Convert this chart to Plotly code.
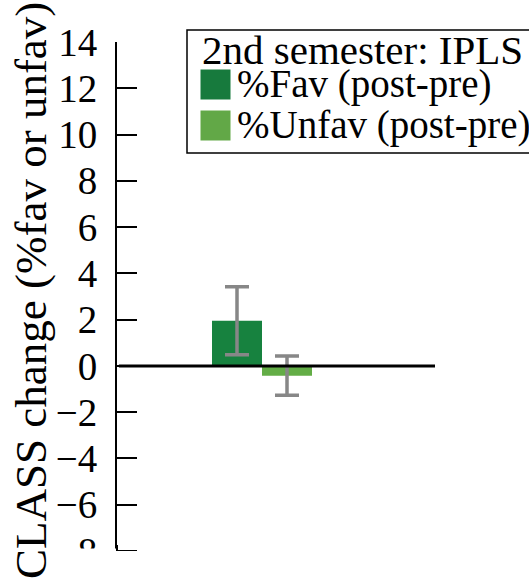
import plotly.graph_objects as go

categories = ["IPLS"]
fav_change = [1.95]
fav_err = [1.47]
unfav_change = [-0.42]
unfav_err = [0.85]
series_names = ["%Fav (post-pre)", "%Unfav (post-pre)"]
legend_title = "2nd semester: IPLS"
y_title = "CLASS change (%fav or unfav)"
y_ticks = [-8, -6, -4, -2, 0, 2, 4, 6, 8, 10, 12, 14]

FAV_COLOR = "#17823F"
UNFAV_COLOR = "#63AD46"
LEG_FAV = "#177A3D"
LEG_UNFAV = "#62A847"
ERR_COLOR = "#878787"
FONT = "Liberation Serif"

W, H = 529, 579
PLOT_L, PLOT_R, PLOT_T, PLOT_B = 117, 435, 42, 551
ML = PLOT_L
MT = PLOT_T
PW = PLOT_R - PLOT_L
PH = PLOT_B - PLOT_T
MR = W - ML - PW
MB = H - MT - PH
Y_MIN, Y_MAX = y_ticks[0], y_ticks[-1]


def px_x(p):
    return (p - PLOT_L) / PW


def px_y(p):
    return (PLOT_B - p) / PH


fig = go.Figure()
fig.add_trace(go.Bar(
    x=categories, y=fav_change, name=series_names[0],
    marker=dict(color=FAV_COLOR, line=dict(width=0)),
    error_y=dict(type="data", array=fav_err, color=ERR_COLOR, thickness=3.5, width=12),
    showlegend=False,
))
fig.add_trace(go.Bar(
    x=categories, y=unfav_change, name=series_names[1],
    marker=dict(color=UNFAV_COLOR, line=dict(width=0)),
    error_y=dict(type="data", array=unfav_err, color=ERR_COLOR, thickness=3.5, width=12),
    showlegend=False,
))

shapes = []
# zero reference line drawn above the bars
shapes.append(dict(type="line", xref="paper", yref="y", x0=0.006, x1=1, y0=0, y1=0,
                   line=dict(color="black", width=3), layer="above"))
# white band clipping the bottom of the picture (as in the source crop)
shapes.append(dict(type="rect", xref="paper", yref="paper", x0=-0.2, x1=1.4,
                   y0=px_y(H + 20), y1=px_y(548.5), fillcolor="white",
                   line=dict(width=0), layer="above"))
# restore the end of the axis line and its last tick on top of the band
shapes.append(dict(type="line", xref="paper", yref="paper", x0=0, x1=0,
                   y0=0, y1=px_y(545), line=dict(color="black", width=2), layer="above"))
shapes.append(dict(type="line", xref="paper", yref="y", x0=-0.002, x1=px_x(137),
                   y0=Y_MIN, y1=Y_MIN, line=dict(color="black", width=2), layer="above"))
# manual legend box
shapes.append(dict(type="rect", xref="paper", yref="paper", x0=px_x(187), x1=px_x(560),
                   y0=px_y(153), y1=px_y(30), line=dict(color="black", width=1.5),
                   fillcolor="rgba(0,0,0,0)", layer="above"))
swatch_colors = [LEG_FAV, LEG_UNFAV]
swatch_tops = [69.5, 110.5]
for c, t in zip(swatch_colors, swatch_tops):
    shapes.append(dict(type="rect", xref="paper", yref="paper", x0=px_x(200.5), x1=px_x(230.5),
                       y0=px_y(t + 30), y1=px_y(t), fillcolor=c, line=dict(width=0), layer="above"))

annotations = [
    dict(text=legend_title, xref="paper", yref="paper", x=px_x(199.5), y=px_y(50),
         xanchor="left", yanchor="middle", showarrow=False,
         font=dict(family=FONT, size=41, color="black")),
    dict(text=y_title, xref="paper", yref="paper", x=px_x(31), y=px_y(291),
         xanchor="center", yanchor="middle", textangle=-90, showarrow=False,
         font=dict(family=FONT, size=45, color="black")),
]
for name, t in zip(series_names, swatch_tops):
    annotations.append(dict(text=name, xref="paper", yref="paper", x=px_x(234.5), y=px_y(t + 14),
                            xanchor="left", yanchor="middle", showarrow=False,
                            font=dict(family=FONT, size=39, color="black")))

fig.update_layout(
    template="none",
    width=W, height=H,
    margin=dict(l=ML, r=MR, t=MT, b=MB, pad=0, autoexpand=False),
    paper_bgcolor="white", plot_bgcolor="white",
    barmode="group", bargap=0.2, bargroupgap=0,
    font=dict(family=FONT, color="black"),
    showlegend=False,
    shapes=shapes,
    annotations=annotations,
    xaxis=dict(range=[-1.16, 1.384], showticklabels=False, showgrid=False, zeroline=False,
               showline=False, ticks="", automargin=False),
    yaxis=dict(range=[Y_MIN, Y_MAX], tickvals=y_ticks, showgrid=False, zeroline=False,
               showline=True, linecolor="black", linewidth=2, automargin=False,
               ticks="inside", ticklen=20, tickwidth=2, tickcolor="black",
               tickfont=dict(family=FONT, size=39, color="black"),
               ticklabelstandoff=10),
)

fig.write_html(
    "out.html",
    config={"displayModeBar": False},
    post_script="document.body.style.margin='0';document.body.style.overflow='hidden';",
)
